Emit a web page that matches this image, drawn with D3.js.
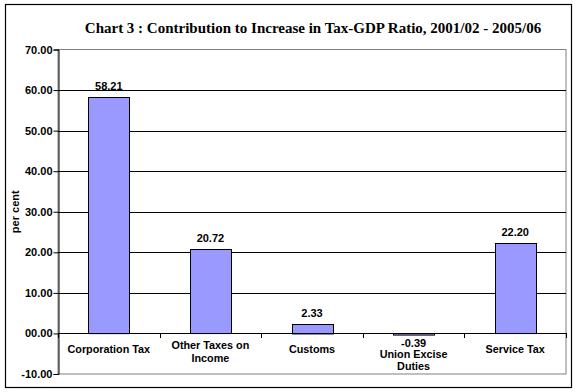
<!DOCTYPE html>
<html><head><meta charset="utf-8">
<script src="https://cdn.jsdelivr.net/npm/d3@7"></script>
<style>body{margin:0;background:#fff}svg{display:block}</style>
</head><body>
<svg id="c" width="577" height="392"></svg>
<script>
const categories = [["Corporation Tax"], ["Other Taxes on", "Income"], ["Customs"], ["Union Excise", "Duties"], ["Service Tax"]];
const values = [58.21, 20.72, 2.33, -0.39, 22.20];
const valueLabels = ["58.21", "20.72", "2.33", "-0.39", "22.20"];
const yTicks = [-10, 0, 10, 20, 30, 40, 50, 60, 70];
const yTickLabels = ["-10.00", "00.00", "10.00", "20.00", "30.00", "40.00", "50.00", "60.00", "70.00"];
const title = "Chart 3 : Contribution to Increase in Tax-GDP Ratio, 2001/02 - 2005/06";
const yTitle = "per cent";

const svg = d3.select("#c");
const L = 58, R = 566, T = 49.5, B = 374;
const x = d3.scaleBand().domain(d3.range(values.length)).range([L, R]).paddingInner(0.6).paddingOuter(0.3);
const band = d3.scaleBand().domain(d3.range(values.length)).range([L, R]);
const y = d3.scaleLinear().domain([-10, 70]).range([B, T]);
const font = "'Liberation Sans', Arial, sans-serif";

svg.append("rect").attr("x", 5.5).attr("y", 4.5).attr("width", 566).attr("height", 383)
  .attr("fill", "#fff").attr("stroke", "#000").attr("stroke-width", 1.2);

svg.append("text").attr("x", 313).attr("y", 33).attr("text-anchor", "middle")
  .attr("font-family", "'Liberation Serif', 'Times New Roman', serif").attr("font-weight", "bold")
  .attr("font-size", 15).text(title);

// plot border (gray)
svg.append("rect").attr("x", L).attr("y", T).attr("width", R - L).attr("height", B - T)
  .attr("fill", "none").attr("stroke", "#808080").attr("stroke-width", 1);

// gridlines
svg.append("g").selectAll("line").data(yTicks.filter(d => d > 0 && d < 70)).join("line")
  .attr("x1", L).attr("x2", R).attr("y1", d => Math.round(y(d)) + 0.5).attr("y2", d => Math.round(y(d)) + 0.5)
  .attr("stroke", "#000").attr("stroke-width", 1);

// bars
svg.append("g").selectAll("rect").data(values).join("rect")
  .attr("x", (d, i) => Math.round(x(i)) + 0.5)
  .attr("width", Math.round(x.bandwidth()))
  .attr("y", d => Math.round(y(Math.max(0, d))) + 0.5)
  .attr("height", d => Math.max(1.5, Math.abs(y(d) - y(0))))
  .attr("fill", "#9999ff").attr("stroke", "#000").attr("stroke-width", 1);

// zero axis
svg.append("line").attr("x1", L).attr("x2", R).attr("y1", Math.round(y(0)) + 0.5).attr("y2", Math.round(y(0)) + 0.5)
  .attr("stroke", "#000");
// category ticks
svg.append("g").selectAll("line").data(d3.range(values.length + 1)).join("line")
  .attr("x1", i => Math.round(L + i * band.step()) + 0.5).attr("x2", i => Math.round(L + i * band.step()) + 0.5)
  .attr("y1", Math.round(y(0))).attr("y2", Math.round(y(0)) + 5).attr("stroke", "#000");

// y axis
const yAxis = d3.axisLeft(y).tickValues(yTicks).tickSize(5).tickPadding(1)
  .tickFormat((d, i) => yTickLabels[i]);
const ga = svg.append("g").attr("transform", `translate(${L + 0.5},0)`).call(yAxis);
ga.select(".domain").attr("stroke", "#000");
ga.selectAll(".tick line").attr("stroke", "#000");
ga.selectAll(".tick text").attr("font-family", font).attr("font-weight", "bold").attr("font-size", 11).attr("fill", "#000");

svg.append("text").attr("transform", `translate(19,${(T + B) / 2}) rotate(-90)`).attr("text-anchor", "middle")
  .attr("font-family", font).attr("font-weight", "bold").attr("font-size", 11).text(yTitle);

// value labels
svg.append("g").selectAll("text").data(values).join("text")
  .attr("x", (d, i) => x(i) + x.bandwidth() / 2)
  .attr("y", d => d >= 0 ? y(d) - 7 : y(d) + 11.5)
  .attr("text-anchor", "middle").attr("font-family", font).attr("font-weight", "bold").attr("font-size", 11)
  .text((d, i) => valueLabels[i]);

// category labels
const cl = svg.append("g").selectAll("text").data(categories).join("text")
  .attr("text-anchor", "middle").attr("font-family", font).attr("font-weight", "bold").attr("font-size", 10.8)
  .attr("transform", (c, i) => {
    const off = values[i] < 0 ? 8.5 : 0;
    const cy = 353 + off - (c.length - 1) * 4;
    return `translate(${band(i) + band.bandwidth() / 2},${cy})`;
  });
cl.selectAll("tspan").data(c => c).join("tspan").attr("x", 0).attr("dy", (d, j) => j === 0 ? 0 : 12.5).text(d => d);
</script>
</body></html>
